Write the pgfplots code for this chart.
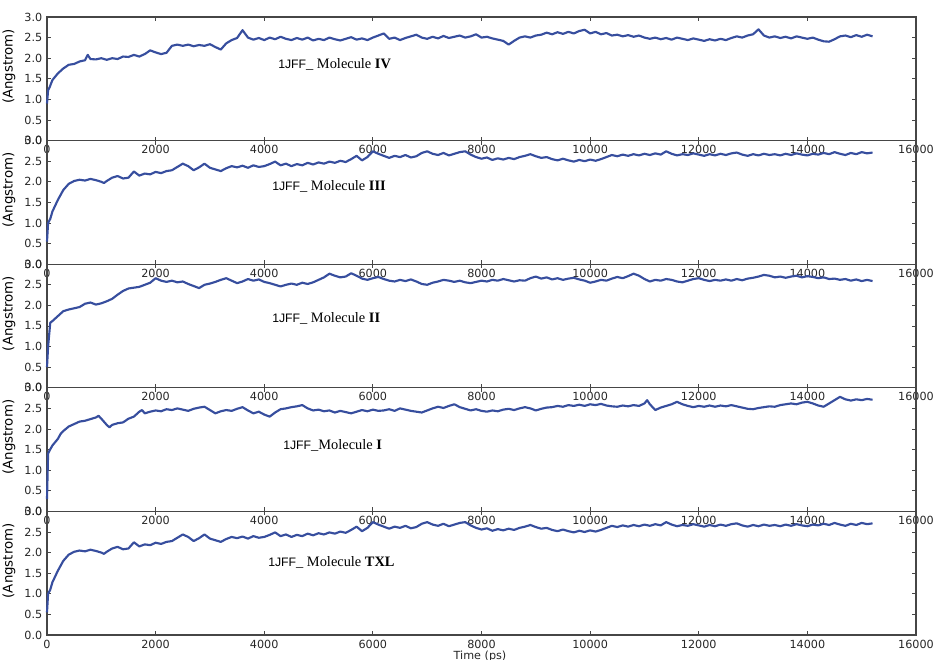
\documentclass[border=0pt]{standalone}
\usepackage{pgfplots}
\pgfplotsset{compat=1.18}
\usepackage{pgfplotstable}
\usepackage{fontspec}
\setmainfont{DejaVu Sans}
\newfontfamily\timesf{Liberation Serif}
\newfontfamily\arialf{Liberation Sans}
\definecolor{rmsd}{RGB}{55,78,158}
\definecolor{spine}{RGB}{70,70,70}

\pgfplotstableread[row sep=\\]{t r\\0 0.9\\20 1.22\\50 1.3\\100 1.47\\150 1.55\\200 1.63\\300 1.75\\400 1.84\\500 1.86\\600 1.92\\700 1.95\\750 2.08\\800 1.98\\900 1.97\\1000 2.0\\1100 1.96\\1200 2.0\\1300 1.98\\1400 2.04\\1500 2.03\\1600 2.08\\1700 2.04\\1800 2.1\\1900 2.19\\2000 2.14\\2100 2.1\\2200 2.13\\2300 2.3\\2400 2.33\\2500 2.3\\2600 2.33\\2700 2.29\\2800 2.32\\2900 2.3\\3000 2.34\\3100 2.27\\3200 2.21\\3300 2.36\\3400 2.44\\3500 2.49\\3600 2.68\\3700 2.5\\3800 2.45\\3900 2.49\\4000 2.44\\4100 2.5\\4200 2.46\\4300 2.52\\4400 2.47\\4500 2.44\\4600 2.49\\4700 2.45\\4800 2.5\\4900 2.43\\5000 2.47\\5100 2.44\\5200 2.5\\5300 2.46\\5400 2.43\\5500 2.47\\5600 2.51\\5700 2.45\\5800 2.48\\5900 2.44\\6000 2.5\\6100 2.55\\6200 2.6\\6300 2.47\\6400 2.5\\6500 2.44\\6600 2.49\\6700 2.53\\6800 2.57\\6900 2.5\\7000 2.47\\7100 2.52\\7200 2.48\\7300 2.54\\7400 2.49\\7500 2.52\\7600 2.55\\7700 2.5\\7800 2.53\\7900 2.58\\8000 2.5\\8100 2.52\\8200 2.48\\8300 2.45\\8400 2.42\\8500 2.33\\8600 2.42\\8700 2.5\\8800 2.53\\8900 2.5\\9000 2.55\\9100 2.57\\9200 2.62\\9300 2.58\\9400 2.63\\9500 2.59\\9600 2.64\\9700 2.6\\9800 2.66\\9900 2.69\\10000 2.6\\10100 2.64\\10200 2.58\\10300 2.61\\10400 2.55\\10500 2.57\\10600 2.53\\10700 2.56\\10800 2.52\\10900 2.55\\11000 2.5\\11100 2.47\\11200 2.5\\11300 2.46\\11400 2.49\\11500 2.45\\11600 2.5\\11700 2.47\\11800 2.44\\11900 2.48\\12000 2.45\\12100 2.42\\12200 2.46\\12300 2.43\\12400 2.47\\12500 2.44\\12600 2.49\\12700 2.53\\12800 2.5\\12900 2.55\\13000 2.58\\13100 2.7\\13200 2.55\\13300 2.5\\13400 2.53\\13500 2.49\\13600 2.52\\13700 2.48\\13800 2.53\\13900 2.5\\14000 2.47\\14100 2.5\\14200 2.45\\14300 2.41\\14400 2.4\\14500 2.46\\14600 2.53\\14700 2.55\\14800 2.51\\14900 2.56\\15000 2.52\\15100 2.57\\15200 2.53\\}\dIV

\pgfplotstableread[row sep=\\]{t r\\0 0.55\\20 1.0\\60 1.1\\100 1.28\\150 1.42\\200 1.56\\300 1.8\\400 1.95\\500 2.02\\600 2.05\\700 2.03\\800 2.07\\900 2.04\\1000 2.0\\1050 1.97\\1100 2.02\\1200 2.1\\1300 2.14\\1400 2.08\\1500 2.1\\1600 2.25\\1700 2.15\\1800 2.2\\1900 2.18\\2000 2.24\\2100 2.21\\2200 2.26\\2300 2.28\\2400 2.36\\2500 2.44\\2600 2.38\\2700 2.28\\2800 2.35\\2900 2.44\\3000 2.34\\3100 2.3\\3200 2.26\\3300 2.33\\3400 2.38\\3500 2.35\\3600 2.39\\3700 2.34\\3800 2.4\\3900 2.36\\4000 2.38\\4100 2.43\\4200 2.49\\4300 2.4\\4400 2.44\\4500 2.38\\4600 2.43\\4700 2.4\\4800 2.46\\4900 2.42\\5000 2.47\\5100 2.44\\5200 2.49\\5300 2.46\\5400 2.51\\5500 2.48\\5600 2.55\\5700 2.63\\5800 2.52\\5900 2.6\\6000 2.74\\6100 2.68\\6200 2.63\\6300 2.58\\6400 2.63\\6500 2.6\\6600 2.65\\6700 2.59\\6800 2.62\\6900 2.7\\7000 2.74\\7100 2.68\\7200 2.65\\7300 2.7\\7400 2.64\\7500 2.68\\7600 2.72\\7700 2.74\\7800 2.66\\7900 2.6\\8000 2.56\\8100 2.59\\8200 2.53\\8300 2.57\\8400 2.54\\8500 2.58\\8600 2.55\\8700 2.6\\8800 2.63\\8900 2.67\\9000 2.62\\9100 2.58\\9200 2.6\\9300 2.55\\9400 2.52\\9500 2.56\\9600 2.52\\9700 2.49\\9800 2.53\\9900 2.5\\10000 2.54\\10100 2.51\\10200 2.55\\10300 2.6\\10400 2.65\\10500 2.62\\10600 2.66\\10700 2.63\\10800 2.67\\10900 2.64\\11000 2.68\\11100 2.65\\11200 2.69\\11300 2.66\\11400 2.74\\11500 2.68\\11600 2.64\\11700 2.67\\11800 2.65\\11900 2.69\\12000 2.66\\12100 2.63\\12200 2.67\\12300 2.64\\12400 2.68\\12500 2.65\\12600 2.69\\12700 2.71\\12800 2.66\\12900 2.63\\13000 2.67\\13100 2.64\\13200 2.68\\13300 2.65\\13400 2.67\\13500 2.64\\13600 2.68\\13700 2.65\\13800 2.69\\13900 2.66\\14000 2.64\\14100 2.68\\14200 2.66\\14300 2.7\\14400 2.67\\14500 2.72\\14600 2.68\\14700 2.65\\14800 2.7\\14900 2.67\\15000 2.72\\15100 2.69\\15200 2.71\\}\dIII

\pgfplotstableread[row sep=\\]{t r\\0 0.5\\20 1.0\\60 1.58\\100 1.62\\150 1.68\\200 1.74\\300 1.86\\400 1.9\\500 1.93\\600 1.96\\700 2.04\\800 2.07\\900 2.02\\1000 2.05\\1100 2.1\\1200 2.16\\1300 2.26\\1400 2.35\\1500 2.41\\1600 2.43\\1700 2.45\\1800 2.5\\1900 2.55\\2000 2.66\\2100 2.6\\2200 2.57\\2300 2.6\\2400 2.56\\2500 2.58\\2600 2.52\\2700 2.47\\2800 2.42\\2900 2.5\\3000 2.53\\3100 2.57\\3200 2.62\\3300 2.66\\3400 2.6\\3500 2.54\\3600 2.58\\3700 2.64\\3800 2.6\\3900 2.63\\4000 2.57\\4100 2.54\\4200 2.5\\4300 2.46\\4400 2.5\\4500 2.53\\4600 2.5\\4700 2.55\\4800 2.52\\4900 2.56\\5000 2.62\\5100 2.68\\5200 2.77\\5300 2.72\\5400 2.68\\5500 2.7\\5600 2.78\\5700 2.72\\5800 2.65\\5900 2.62\\6000 2.66\\6100 2.69\\6200 2.64\\6300 2.6\\6400 2.58\\6500 2.62\\6600 2.59\\6700 2.63\\6800 2.58\\6900 2.52\\7000 2.5\\7100 2.55\\7200 2.58\\7300 2.62\\7400 2.6\\7500 2.57\\7600 2.6\\7700 2.56\\7800 2.54\\7900 2.57\\8000 2.6\\8100 2.58\\8200 2.62\\8300 2.6\\8400 2.64\\8500 2.61\\8600 2.58\\8700 2.61\\8800 2.6\\8900 2.66\\9000 2.7\\9100 2.65\\9200 2.68\\9300 2.63\\9400 2.66\\9500 2.62\\9600 2.65\\9700 2.67\\9800 2.63\\9900 2.6\\10000 2.55\\10100 2.58\\10200 2.62\\10300 2.6\\10400 2.65\\10500 2.69\\10600 2.66\\10700 2.71\\10800 2.77\\10900 2.72\\11000 2.64\\11100 2.58\\11200 2.62\\11300 2.6\\11400 2.64\\11500 2.62\\11600 2.58\\11700 2.56\\11800 2.6\\11900 2.64\\12000 2.66\\12100 2.62\\12200 2.59\\12300 2.62\\12400 2.6\\12500 2.63\\12600 2.6\\12700 2.64\\12800 2.61\\12900 2.65\\13000 2.67\\13100 2.7\\13200 2.74\\13300 2.72\\13400 2.68\\13500 2.7\\13600 2.67\\13700 2.7\\13800 2.72\\13900 2.68\\14000 2.71\\14100 2.69\\14200 2.66\\14300 2.68\\14400 2.64\\14500 2.65\\14600 2.62\\14700 2.64\\14800 2.6\\14900 2.63\\15000 2.59\\15100 2.62\\15200 2.59\\}\dII

\pgfplotstableread[row sep=\\]{t r\\0 0.3\\20 1.4\\40 1.46\\100 1.6\\150 1.68\\200 1.76\\250 1.88\\300 1.95\\400 2.06\\500 2.12\\600 2.18\\700 2.2\\800 2.24\\900 2.28\\950 2.32\\1000 2.25\\1100 2.1\\1150 2.04\\1200 2.1\\1300 2.14\\1400 2.16\\1500 2.25\\1600 2.3\\1700 2.42\\1750 2.46\\1800 2.38\\1900 2.42\\2000 2.45\\2100 2.43\\2200 2.48\\2300 2.46\\2400 2.5\\2500 2.47\\2600 2.44\\2700 2.49\\2800 2.52\\2900 2.54\\3000 2.46\\3100 2.38\\3200 2.43\\3300 2.46\\3400 2.44\\3500 2.49\\3600 2.53\\3700 2.45\\3800 2.38\\3900 2.42\\4000 2.35\\4100 2.3\\4200 2.4\\4300 2.48\\4400 2.5\\4500 2.53\\4600 2.55\\4700 2.58\\4800 2.5\\4900 2.45\\5000 2.47\\5100 2.43\\5200 2.45\\5300 2.4\\5400 2.44\\5500 2.41\\5600 2.38\\5700 2.42\\5800 2.46\\5900 2.43\\6000 2.47\\6100 2.44\\6200 2.45\\6300 2.48\\6400 2.44\\6500 2.5\\6600 2.47\\6700 2.44\\6800 2.42\\6900 2.4\\7000 2.45\\7100 2.5\\7200 2.54\\7300 2.51\\7400 2.56\\7500 2.6\\7600 2.53\\7700 2.49\\7800 2.45\\7900 2.48\\8000 2.44\\8100 2.42\\8200 2.45\\8300 2.43\\8400 2.47\\8500 2.49\\8600 2.46\\8700 2.5\\8800 2.53\\8900 2.5\\9000 2.45\\9100 2.49\\9200 2.52\\9300 2.53\\9400 2.56\\9500 2.54\\9600 2.58\\9700 2.56\\9800 2.59\\9900 2.56\\10000 2.6\\10100 2.58\\10200 2.61\\10300 2.57\\10400 2.55\\10500 2.54\\10600 2.57\\10700 2.55\\10800 2.58\\10900 2.56\\11000 2.62\\11050 2.7\\11100 2.6\\11200 2.46\\11300 2.52\\11400 2.56\\11500 2.6\\11600 2.66\\11700 2.6\\11800 2.56\\11900 2.53\\12000 2.56\\12100 2.54\\12200 2.57\\12300 2.54\\12400 2.57\\12500 2.55\\12600 2.58\\12700 2.55\\12800 2.52\\12900 2.49\\13000 2.48\\13100 2.51\\13200 2.53\\13300 2.55\\13400 2.54\\13500 2.58\\13600 2.6\\13700 2.62\\13800 2.6\\13900 2.64\\14000 2.66\\14100 2.62\\14200 2.57\\14300 2.54\\14400 2.62\\14500 2.7\\14600 2.78\\14700 2.72\\14800 2.69\\14900 2.72\\15000 2.7\\15100 2.73\\15200 2.71\\}\dI

\pgfplotsset{
  rmsdaxis/.style={
    scale only axis, width=651.75pt, height=92.7pt,
    anchor=south west,
    xmin=0, xmax=16000, ymin=0, ymax=3,
    xtick={0,2000,...,16000},
    ytick={0,0.5,1.0,1.5,2.0,2.5,3.0},
    scaled x ticks=false,
    xticklabel style={/pgf/number format/.cd, fixed, 1000 sep={}, assume math mode=true},
    yticklabel style={/pgf/number format/.cd, fixed, fixed zerofill, precision=1, assume math mode=true},
    tick label style={font=\fontsize{8.4pt}{10pt}\selectfont, text=black!85},
    label style={font=\fontsize{8.4pt}{10pt}\selectfont, text=black!85},
    tick align=inside, tick pos=both, major tick length=3pt,
    axis line style={spine, line width=0.8pt},
    every tick/.style={spine, line width=0.6pt},
    ylabel={(Angstrom)},
    every axis y label/.style={at={(ticklabel cs:0.6)}, rotate=90, anchor=near ticklabel},
    clip=false,
  },
  rmsdline/.style={rmsd, line width=1.6pt, line join=round, no marks},
}

\newcommand{\molname}[2]{{\arialf\fontsize{9.2pt}{10pt}\selectfont 1JFF}{\timesf\fontsize{10.8pt}{12pt}\selectfont\_#1Molecule \textbf{#2}}}

\begin{document}
\begin{tikzpicture}
\useasboundingbox (0,0) rectangle (701.25pt,495pt);
\begin{axis}[rmsdaxis, at={(35.25pt,389.55pt)}]
\addplot[rmsdline] table[x=t,y=r]{\dIV};
\end{axis}
\begin{axis}[rmsdaxis, at={(35.25pt,296.85pt)}]
\addplot[rmsdline] table[x=t,y=r]{\dIII};
\end{axis}
\begin{axis}[rmsdaxis, at={(35.25pt,204.15pt)}]
\addplot[rmsdline] table[x=t,y=r]{\dII};
\end{axis}
\begin{axis}[rmsdaxis, at={(35.25pt,111.45pt)}]
\addplot[rmsdline] table[x=t,y=r]{\dI};
\end{axis}
\begin{axis}[rmsdaxis, at={(35.25pt,18.75pt)}]
\addplot[rmsdline] table[x=t,y=r]{\dIII};
\end{axis}
\node[anchor=west, inner sep=0pt] at (208.5pt,447pt) {\molname{ }{IV}};
\node[anchor=west, inner sep=0pt] at (204pt,355.5pt) {\molname{ }{III}};
\node[anchor=west, inner sep=0pt] at (204pt,256.5pt) {\molname{ }{II}};
\node[anchor=west, inner sep=0pt] at (212.25pt,161.25pt) {\molname{}{I}};
\node[anchor=west, inner sep=0pt] at (201pt,73.5pt) {\molname{ }{TXL}};
\node[font=\fontsize{8.4pt}{10pt}\selectfont, text=black!85, inner sep=0pt] at (360pt,3pt) {Time (ps)};
\end{tikzpicture}
\end{document}
